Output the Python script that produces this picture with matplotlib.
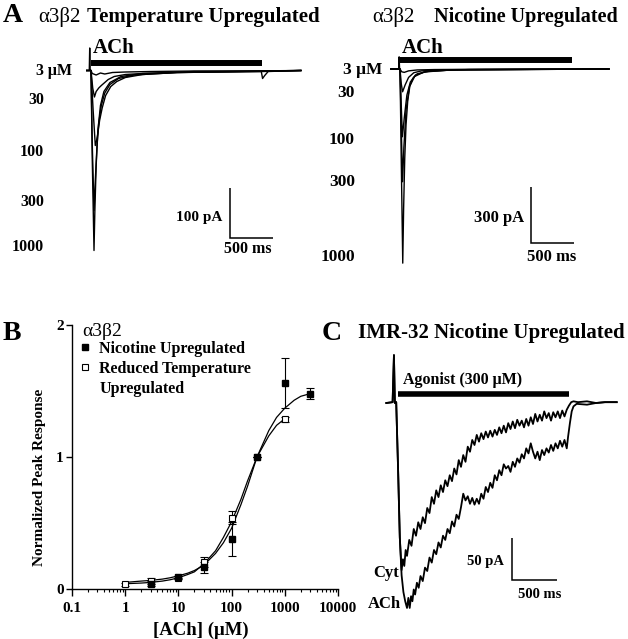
import matplotlib
matplotlib.use("Agg")
import matplotlib.pyplot as plt
from matplotlib.lines import Line2D

# === Data ===
# Panel A, left: a3b2 temperature upregulated, ACh responses (ms, pA)
temp_ms = [
    [-50, -20, -15, -10, 0, 15, 35, 45, 60, 80, 110, 150, 220, 350, 600, 1200, 2440],
    [-50, 0, 15, 35, 50, 70, 90, 120, 160, 220, 320, 500, 1000, 2000, 2440],
    [-50, 0, 25, 50, 65, 80, 100, 130, 170, 230, 300, 400, 600, 1000, 2000, 2440],
    [-50, 0, 20, 40, 60, 90, 120, 160, 200, 270, 400, 600, 1000, 1500, 1980, 1995, 2020, 2060, 2440],
    [-50, 0, 15, 60, 110, 160, 250, 400, 700, 1200, 2000, 2440],
]
temp_pA = [
    [0, 0, 45, 0, 0, -180, -360, -280, -190, -120, -70, -42, -24, -12, -6, -2, 0],
    [0, 0, -150, -280, -220, -150, -105, -70, -45, -28, -16, -9, -4, -1, 0],
    [0, 0, -80, -150, -140, -125, -100, -75, -50, -32, -22, -14, -8, -4, -2, 0],
    [0, 0, -35, -53, -42, -35, -30, -24, -18, -12, -8, -6, -4, -3, -2, -16, -10, -2, 0],
    [0, 0, -6, -9, -5, -7, -4, -3, -2, -1, -1, 0],
]
temp_ach_on_off = [0, 1990]

# Panel A, right: a3b2 nicotine upregulated (ms, pA)
nic_ms = [
    [-105, -15, -10, -5, 0, 15, 32, 42, 55, 70, 90, 115, 150, 200, 350, 800, 2430],
    [-105, 0, 15, 30, 45, 70, 110, 170, 280, 600, 2430],
    [-105, 0, 15, 28, 50, 80, 120, 180, 300, 600, 2430],
    [-105, 0, 15, 30, 60, 100, 160, 250, 500, 2430],
    [-105, 0, 20, 50, 100, 200, 400, 1000, 2430],
]
nic_pA = [
    [0, 0, 65, 0, 0, -500, -1040, -750, -480, -300, -170, -90, -50, -26, -10, -3, 0],
    [0, 0, -320, -604, -420, -220, -95, -40, -16, -5, 0],
    [0, 0, -200, -363, -260, -140, -70, -32, -14, -5, 0],
    [0, 0, -80, -122, -85, -45, -20, -10, -4, 0],
    [0, 0, -15, -18, -10, -5, -3, -1, 0],
]
nic_ach_on_off = [0, 2000]
conc_labels = ["30", "100", "300", "1000"]

# Panel B: concentration-response
nic_x = [3, 10, 30, 100, 300, 1000, 3000]
nic_y = [0.04, 0.09, 0.165, 0.38, 1.0, 1.56, 1.48]
nic_err = [0.02, 0.01, 0.04, 0.13, 0.0, 0.19, 0.04]
temp_x = [1, 3, 10, 30, 100, 300, 1000]
temp_y = [0.035, 0.06, 0.085, 0.205, 0.54, 1.0, 1.285]
temp_err = [0.01, 0.02, 0.01, 0.04, 0.05, 0.0, 0.02]
nic_fit_x = [1, 2, 3, 5, 7, 10, 15, 20, 30, 50, 70, 100, 150, 200, 300, 500, 700, 1000, 1500, 2000, 3000]
nic_fit_y = [0.05, 0.06, 0.065, 0.075, 0.085, 0.1, 0.12, 0.14, 0.18, 0.27, 0.35, 0.46, 0.64, 0.78, 1.0, 1.2, 1.3, 1.37, 1.43, 1.46, 1.48]
temp_fit_x = [1, 2, 3, 5, 7, 10, 15, 20, 30, 50, 70, 100, 150, 200, 300, 500, 700, 1000]
temp_fit_y = [0.04, 0.045, 0.05, 0.06, 0.07, 0.085, 0.11, 0.13, 0.19, 0.29, 0.39, 0.51, 0.68, 0.82, 1.0, 1.16, 1.24, 1.29]
conc_ticks = [0.1, 1, 10, 100, 1000, 10000]
conc_ticklabels = ["0.1", "1", "10", "100", "1000", "10000"]

# Panel C: IMR-32, cytisine and ACh at 300 uM (ms, pA)
cyt_ms = [-130, -60, -45, -35, -20, 0, 20, 40, 55, 70, 85, 100, 125, 150, 175, 200, 225, 250, 275, 300,
          325, 350, 375, 400, 425, 450, 475, 500, 525, 550, 575, 600, 625, 650, 675, 700, 725, 750, 775, 800,
          825, 850, 875, 900, 925, 950, 975, 1000, 1025, 1050, 1075, 1100, 1125, 1150, 1175, 1200, 1225, 1250,
          1275, 1300, 1325, 1350, 1375, 1400, 1425, 1450, 1475, 1500, 1525, 1550, 1575, 1600, 1625, 1650, 1675,
          1700, 1725, 1750, 1775, 1800, 1825, 1850, 1875, 1900, 1925, 1950, 2000, 2100, 2200, 2300, 2430]
cyt_pA = [0, 1, 57, 0, 1, -75, -160, -199, -186, -194, -175, -182, -163, -170, -150, -158, -142, -150, -136, -143,
          -125, -131, -112, -120, -104, -112, -98, -106, -92, -99, -86, -93, -78, -85, -68, -76, -62, -70, -52, -58,
          -44, -50, -38, -46, -36, -43, -34, -41, -33, -40, -32, -38, -29, -36, -27, -35, -24, -31,
          -22, -30, -20, -27, -21, -29, -19, -27, -17, -25, -13, -22, -14, -21, -10, -18, -12,
          -21, -11, -17, -10, -18, -9, -16, -8, -3, 1, 2, 1, 2, 0, 1, 1]
ach_ms = [-130, -60, -45, -35, -20, 0, 20, 40, 60, 80, 100, 115, 130, 145, 160, 175, 190, 210, 230, 250,
          275, 300, 325, 350, 375, 400, 425, 450, 475, 500, 525, 550, 575, 600, 625, 650, 675, 700, 725, 750,
          775, 800, 825, 850, 875, 900, 925, 950, 975, 1000, 1025, 1050, 1075, 1100, 1125, 1150, 1175, 1200,
          1225, 1250, 1275, 1300, 1325, 1350, 1375, 1400, 1425, 1450, 1475, 1500, 1525, 1550, 1575, 1600,
          1625, 1650, 1675, 1700, 1725, 1750, 1775, 1800, 1825, 1850, 1875, 1890, 1910, 1930, 1950, 1985,
          2100, 2200, 2300, 2430]
ach_pA = [0, 1, 57, 0, 1, -75, -160, -205, -225, -236, -244, -232, -244, -230, -236, -222, -228, -214, -220, -206,
          -212, -196, -200, -184, -190, -175, -180, -166, -172, -158, -163, -150, -155, -141, -147, -133, -138, -124,
          -108, -116, -111, -120, -113, -121, -114, -120, -108, -114, -100, -106, -95, -101, -86, -92, -80, -86,
          -73, -78, -75, -82, -70, -76, -66, -71, -61, -66, -54, -60, -48, -58, -66, -58, -68, -56,
          -62, -54, -59, -50, -57, -48, -54, -45, -52, -44, -54, -40, -24, -10, -4, -1,
          -2, 0, 1, 1]
agonist_on_off = [0, 1900]

# === Figure set-up (work in pixel units of the 628x639 reference) ===
W, H = 628, 639
plt.rcParams.update({
    'font.family': ['Liberation Serif', 'DejaVu Serif'],
    'font.weight': 'bold',
    'axes.linewidth': 1.0,
    'xtick.major.width': 1.0,
    'ytick.major.width': 1.0,
})
fig = plt.figure(figsize=(W / 100, H / 100), dpi=100)
fig.patch.set_facecolor('white')


def ptext(x, y, s, **kw):
    kw.setdefault('va', 'center')
    fig.text(x / W, 1 - y / H, s, **kw)


def trace_axes(box, origin, px_per_ms, px_per_pA):
    left, top, right, bottom = box
    ox, oy = origin
    ax = fig.add_axes([left / W, 1 - bottom / H, (right - left) / W, (bottom - top) / H])
    ax.set_xlim((left - ox) / px_per_ms, (right - ox) / px_per_ms)
    ax.set_ylim((oy - bottom) / px_per_pA, (oy - top) / px_per_pA)
    ax.axis('off')
    return ax


def scale_bar(ax, t0, i0, dt, di):
    ax.plot([t0, t0, t0 + dt], [i0 + di, i0, i0], color='black', lw=1.1,
            solid_joinstyle='miter', solid_capstyle='butt')


# === Panel A, left ===
axL = trace_axes((70, 40, 312, 265), (91, 70.5), 43 / 500, 0.5)
for t, i in zip(temp_ms, temp_pA):
    axL.plot(t, i, color='black', lw=1.0)
axL.plot(temp_ach_on_off, [16, 16], color='black', lw=4.3, solid_capstyle='butt')
scale_bar(axL, 1620, -335, 500, 100)

ptext(3, 16, "A", fontsize=20)
ptext(38, 17, "α3β2", fontsize=15, fontweight='normal')
ptext(87, 17, "Temperature Upregulated", fontsize=15)
ptext(93, 48, "ACh", fontsize=15)
ptext(36, 71, "3 μM", fontsize=11.5)
for lab, y in zip(conc_labels, [100, 152, 202, 247]):
    ptext(44, y, lab, fontsize=11.5, ha='right')
ptext(222, 218, "100 pA", fontsize=11, ha='right')
ptext(248, 249, "500 ms", fontsize=11.5, ha='center')

# === Panel A, right ===
axR = trace_axes((380, 40, 620, 275), (400, 69), 43 / 500, 56 / 300)
for t, i in zip(nic_ms, nic_pA):
    axR.plot(t, i, color='black', lw=1.0)
axR.plot(nic_ach_on_off, [48, 48], color='black', lw=4.3, solid_capstyle='butt')
scale_bar(axR, 1520, -932, 500, 300)

ptext(372, 17, "α3β2", fontsize=15, fontweight='normal')
ptext(434, 17, "Nicotine Upregulated", fontsize=14.5)
ptext(402, 48, "ACh", fontsize=15)
ptext(343, 70, "3 μM", fontsize=12.5)
for lab, y in zip(conc_labels, [93, 140, 182, 257]):
    ptext(355, y, lab, fontsize=12.5, ha='right')
ptext(524, 218, "300 pA", fontsize=12, ha='right')
ptext(552, 257, "500 ms", fontsize=12, ha='center')

# === Panel B ===
axB = fig.add_axes([72 / W, 1 - 589 / H, (338 - 72) / W, (589 - 325) / H])
axB.set_xscale('log')
axB.plot(nic_fit_x, nic_fit_y, color='black', lw=0.9)
axB.plot(temp_fit_x, temp_fit_y, color='black', lw=0.9)
axB.errorbar(temp_x, temp_y, yerr=temp_err, fmt='s', ms=4.5, mfc='white', mec='black',
             mew=0.8, ecolor='black', elinewidth=0.8, capsize=3, capthick=0.8)
axB.errorbar(nic_x, nic_y, yerr=nic_err, fmt='s', ms=4.5, mfc='black', mec='black',
             ecolor='black', elinewidth=0.8, capsize=3, capthick=0.8)
axB.set_xlim(0.1, 10000)
axB.set_ylim(0, 2)
axB.set_yticks([0, 1, 2])
axB.set_yticklabels(["0", "1", "2"])
axB.set_xticks(conc_ticks)
axB.set_xticklabels(conc_ticklabels)
axB.tick_params(axis='both', which='major', direction='out', length=4, labelsize=11, pad=2)
axB.tick_params(axis='x', which='major', length=5, pad=4)
axB.tick_params(axis='x', which='minor', direction='out', length=2.5, width=0.8)
for s in ['top', 'right']:
    axB.spines[s].set_visible(False)
for lab in axB.get_xticklabels() + axB.get_yticklabels():
    lab.set_fontweight('bold')

ptext(3, 333, "B", fontsize=20)
ptext(82, 332, "α3β2", fontsize=14, fontweight='normal')
ptext(40, 477, "Normalized Peak Response", fontsize=11, rotation=90, ha='center')
ptext(201, 630, "[ACh] (μM)", fontsize=13.5, ha='center')

handles = [Line2D([], [], ls='', marker='s', ms=4.5, mfc='black', mec='black'),
           Line2D([], [], ls='', marker='s', ms=4.5, mfc='white', mec='black', mew=0.8),
           Line2D([], [], ls='', marker='')]
axB.legend(handles, ["Nicotine Upregulated", "Reduced Temperature", "Upregulated"],
           loc='upper left', bbox_to_anchor=(80 / W, 1 - 341 / H), bbox_transform=fig.transFigure,
           frameon=False, handlelength=0.6, handletextpad=0.6, borderpad=0, borderaxespad=0,
           labelspacing=0.25, prop={'size': 11.5, 'weight': 'bold'})

# === Panel C ===
axC = trace_axes((360, 340, 625, 615), (398, 403), 45 / 500, 42 / 50)
axC.plot(cyt_ms, cyt_pA, color='black', lw=1.3)
axC.plot(ach_ms, ach_pA, color='black', lw=1.3)
axC.plot(agonist_on_off, [11, 11], color='black', lw=4.0, solid_capstyle='butt')
scale_bar(axC, 1267, -211, 500, 50)

ptext(322, 334, "C", fontsize=20)
ptext(358, 333, "IMR-32 Nicotine Upregulated", fontsize=15)
ptext(403, 380, "Agonist (300 μM)", fontsize=11.5)
ptext(399, 573, "Cyt", fontsize=12, ha='right')
ptext(401, 604, "ACh", fontsize=12, ha='right')
ptext(504, 561, "50 pA", fontsize=10.5, ha='right')
ptext(540, 595, "500 ms", fontsize=10.5, ha='center')

fig.savefig("out.png", dpi=100)
